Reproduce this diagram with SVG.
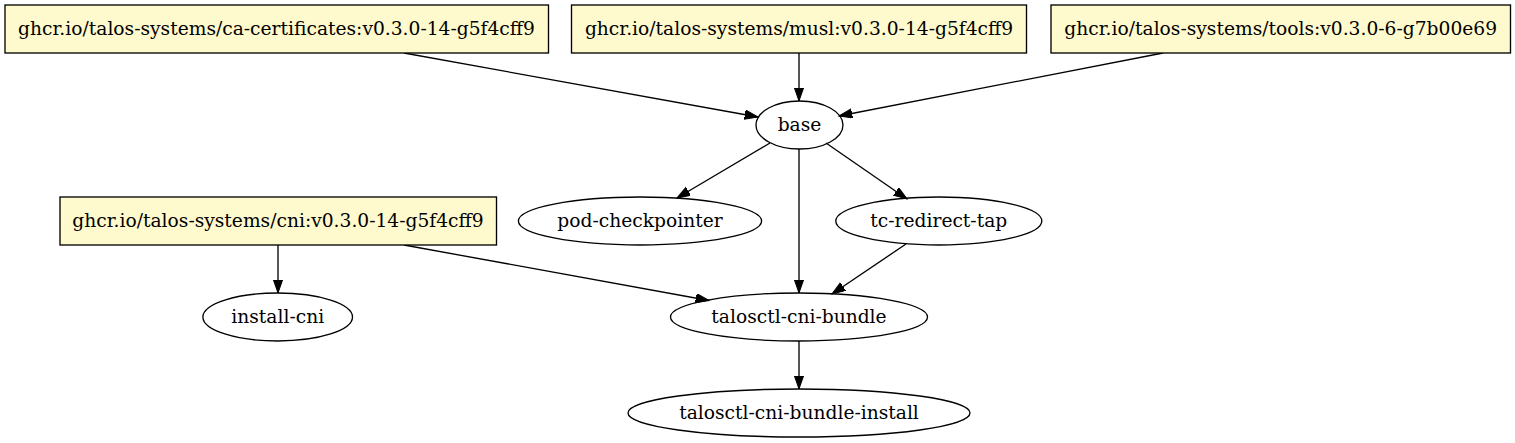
<svg xmlns="http://www.w3.org/2000/svg" width="1515" height="443" viewBox="0 0 1515 443">
<style>
.box{fill:#fffacd;stroke:#000;stroke-width:1.33}
.ell{fill:none;stroke:#000;stroke-width:1.33}
text{font-family:"DejaVu Serif","Liberation Serif",serif;font-size:18.67px;text-anchor:middle;fill:#000}
.edge{stroke:#000;stroke-width:1.33;fill:none;marker-end:url(#arr)}
</style>
<defs>
<marker id="arr" markerUnits="userSpaceOnUse" markerWidth="16" markerHeight="12" refX="13.3" refY="4.67" orient="auto" viewBox="0 0 16 12">
<path d="M0,0 L13.3,4.67 L0,9.33 Z" fill="#000" stroke="#000" stroke-width="1"/>
</marker>
</defs>
<rect width="1515" height="443" fill="#fff"/>
<g id="connectors">
<path class="edge" d="M404,53 L758,117"/>
<path class="edge" d="M799,53 L799,101"/>
<path class="edge" d="M1163,53 L839,116"/>
<path class="edge" d="M770,143 L677,198"/>
<path class="edge" d="M799,149 L799,293"/>
<path class="edge" d="M826,143 L907,199"/>
<path class="edge" d="M906,244 L832,294"/>
<path class="edge" d="M404,245 L709,300.5"/>
<path class="edge" d="M278,245 L278,293"/>
<path class="edge" d="M799,341 L799,389"/>
</g>
<g id="ca-certificates">
<rect class="box" x="5" y="5" width="543.5" height="48"/>
<text x="276.5" y="35">ghcr.io/talos-systems/ca-certificates:v0.3.0-14-g5f4cff9</text>
</g>
<g id="musl">
<rect class="box" x="571.5" y="5" width="455" height="48"/>
<text x="799" y="35">ghcr.io/talos-systems/musl:v0.3.0-14-g5f4cff9</text>
</g>
<g id="tools">
<rect class="box" x="1051" y="5" width="459.5" height="48"/>
<text x="1280.7" y="35">ghcr.io/talos-systems/tools:v0.3.0-6-g7b00e69</text>
</g>
<g id="base">
<ellipse class="ell" cx="799.5" cy="125" rx="43.5" ry="24"/>
<text x="799.5" y="131">base</text>
</g>
<g id="cni">
<rect class="box" x="60" y="197" width="436.5" height="48"/>
<text x="278" y="227">ghcr.io/talos-systems/cni:v0.3.0-14-g5f4cff9</text>
</g>
<g id="pod-checkpointer">
<ellipse class="ell" cx="640" cy="221" rx="121.6" ry="24"/>
<text x="640" y="227">pod-checkpointer</text>
</g>
<g id="tc-redirect-tap">
<ellipse class="ell" cx="938.8" cy="221" rx="103" ry="24"/>
<text x="938.8" y="227">tc-redirect-tap</text>
</g>
<g id="install-cni">
<ellipse class="ell" cx="277.7" cy="317" rx="74.8" ry="24"/>
<text x="277.7" y="323">install-cni</text>
</g>
<g id="talosctl-cni-bundle">
<ellipse class="ell" cx="799" cy="317" rx="128.5" ry="24"/>
<text x="799" y="323">talosctl-cni-bundle</text>
</g>
<g id="talosctl-cni-bundle-install">
<ellipse class="ell" cx="799" cy="413" rx="171" ry="24"/>
<text x="799" y="419">talosctl-cni-bundle-install</text>
</g>
</svg>
